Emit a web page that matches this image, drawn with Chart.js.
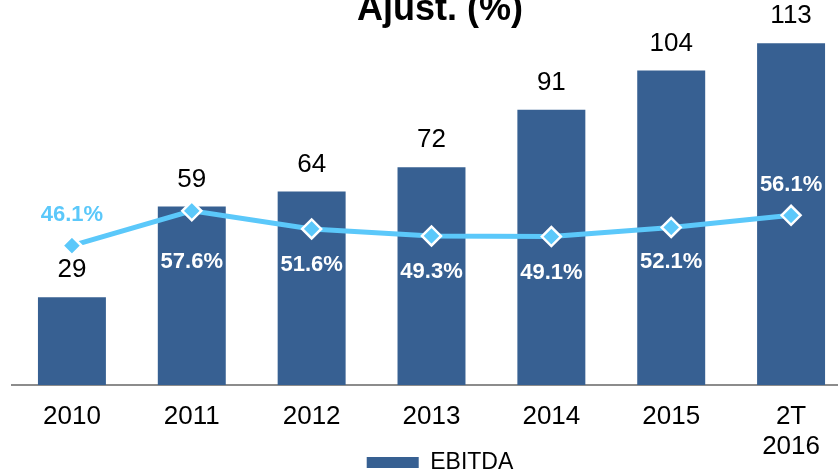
<!DOCTYPE html>
<html>
<head>
<meta charset="utf-8">
<script src="https://cdn.jsdelivr.net/npm/chart.js@4.4.1/dist/chart.umd.min.js"></script>
<style>
  html, body { margin: 0; padding: 0; background: #ffffff; width: 838px; height: 473px; overflow: hidden; }
  #wrap { position: absolute; left: 0; top: -20px; width: 869px; height: 504px; }
</style>
</head>
<body>
<div id="wrap"><canvas id="chart"></canvas></div>
<script>
// ---- data ----
const categories = ['2010', '2011', '2012', '2013', '2014', '2015', ['2T', '2016']];
const ebitdaValues = [29, 59, 64, 72, 91, 104, 113];
const marginValues = [46.1, 57.6, 51.6, 49.3, 49.1, 52.1, 56.1];
const titleText = 'Ajust. (%)';
const barSeriesName = 'EBITDA';
const lineSeriesName = 'Margem EBITDA Ajust. (%)';

// ---- styling ----
const FONT = '"Liberation Sans", Arial, Helvetica, sans-serif';
const BAR_COLOR = '#376092';
const LINE_COLOR = '#5BC8FA';

const labelsPlugin = {
  id: 'valueLabels',
  afterLayout(chart) {
    // let the two-line category label overflow into the legend band
    chart.scales.x.bottom = chart.height;
  },
  afterDatasetsDraw(chart, args, opts) {
    const ctx = chart.ctx;
    const barMeta = chart.getDatasetMeta(0);
    const lineMeta = chart.getDatasetMeta(1);
    ctx.save();
    ctx.textAlign = 'center';
    ctx.textBaseline = 'middle';
    ctx.font = '26px ' + FONT;
    ctx.fillStyle = '#000000';
    barMeta.data.forEach((bar, i) => {
      ctx.fillText(String(ebitdaValues[i]), bar.x, bar.y - opts.barGap);
    });
    ctx.font = 'bold 22px ' + FONT;
    lineMeta.data.forEach((pt, i) => {
      ctx.fillStyle = opts.pctColors[i];
      ctx.fillText(marginValues[i].toFixed(1) + '%', pt.x, pt.y + opts.pctOffsets[i]);
    });
    ctx.restore();
  }
};

new Chart(document.getElementById('chart'), {
  data: {
    labels: categories,
    datasets: [
      {
        type: 'bar',
        label: barSeriesName,
        data: ebitdaValues,
        backgroundColor: BAR_COLOR,
        borderWidth: 0,
        barPercentage: 0.567,
        categoryPercentage: 1.0,
        order: 2,
        yAxisID: 'y'
      },
      {
        type: 'line',
        label: lineSeriesName,
        data: marginValues,
        borderColor: LINE_COLOR,
        borderWidth: 5,
        tension: 0,
        pointStyle: 'rectRot',
        pointRadius: 9.5,
        pointBackgroundColor: LINE_COLOR,
        pointBorderColor: '#ffffff',
        pointBorderWidth: 2.5,
        order: 1,
        yAxisID: 'y'
      }
    ]
  },
  options: {
    responsive: true,
    maintainAspectRatio: false,
    animation: false,
    layout: { padding: { left: 11, right: 0, top: 0, bottom: 0 } },
    scales: {
      x: {
        offset: true,
        grid: { display: false, drawTicks: false },
        border: { display: true, color: '#8c8c8c', width: 2 },
        ticks: {
          color: '#000000',
          padding: 17,
          maxRotation: 0,
          autoSkip: false,
          font: { family: FONT, size: 26, lineHeight: 1.15 }
        },
        afterFit(scale) { scale.height = 60; }
      },
      y: {
        display: false,
        min: 0,
        max: 116
      },
      y2: {
        display: true,
        position: 'right',
        grid: { display: false, drawTicks: false },
        border: { display: false },
        ticks: { display: false },
        afterFit(scale) { scale.width = 18; }
      }
    },
    plugins: {
      title: {
        display: true,
        text: titleText,
        color: '#000000',
        font: { family: FONT, size: 36, weight: 'bold', lineHeight: 1.2 },
        padding: { top: 8, bottom: 3 }
      },
      legend: {
        display: true,
        position: 'bottom',
        labels: {
          color: '#000000',
          boxWidth: 52,
          boxHeight: 11,
          padding: 6,
          font: { family: FONT, size: 23 },
          filter: (item) => item.datasetIndex === 0
        }
      },
      tooltip: { enabled: false },
      valueLabels: {
        barGap: 27,
        pctOffsets: [-31, 51, 36, 36, 36, 34, -30],
        pctColors: [LINE_COLOR, '#ffffff', '#ffffff', '#ffffff', '#ffffff', '#ffffff', '#ffffff']
      }
    }
  },
  plugins: [labelsPlugin]
});
</script>
</body>
</html>
